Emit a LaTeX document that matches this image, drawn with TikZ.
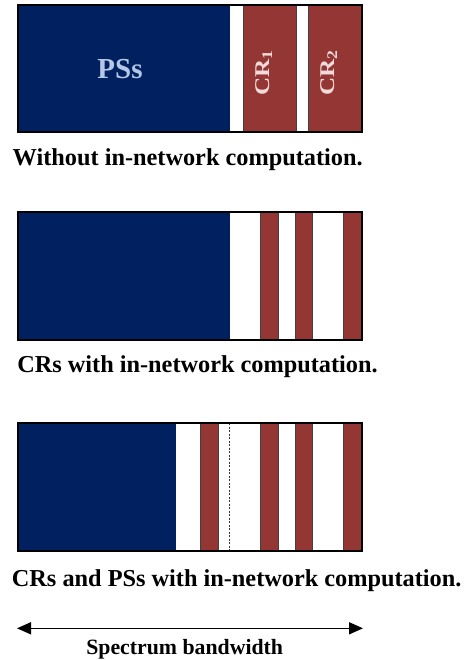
\documentclass[tikz,border=0pt]{standalone}
\usepackage{fontspec}
\usepackage{graphicx}
\setmainfont{Liberation Serif}
\usetikzlibrary{arrows.meta}
\definecolor{psblue}{HTML}{002060}
\definecolor{crred}{HTML}{943634}
\definecolor{pstext}{HTML}{B4C7E7}
\definecolor{crtext}{HTML}{F2DCDB}
\begin{document}
\begin{tikzpicture}[x=1pt,y=-1pt,
    ps/.style={fill=psblue},
    cr/.style={fill=crred,draw=black!75,line width=0.8pt},
    band/.style={draw=black,line width=2pt},
    caption/.style={font=\fontsize{24.3}{29}\selectfont\bfseries,anchor=base,inner sep=0pt},
    crlabel/.style={font=\fontsize{21}{25}\selectfont\bfseries,text=crtext,rotate=90,anchor=base,inner sep=0pt}]
    \useasboundingbox (0,0) rectangle (467,660);
    % without in-network computation
    \fill[ps] (18,5) rectangle (230,132);
    \draw[cr] (243,5) rectangle (296,132);
    \draw[cr] (308,5) rectangle (361,132);
    \draw[band] (18,5) rectangle (362,132);
    \node[font=\fontsize{29}{34}\selectfont\bfseries,text=pstext,anchor=base,inner sep=0pt] (ps) at (120,78.3) {PSs};
    \node[crlabel] (cr1) at (269,73) {\scalebox{1.2}[1]{CR\textsubscript{1}}};
    \node[crlabel] (cr2) at (334,73) {\scalebox{1.2}[1]{CR\textsubscript{2}}};
    \node[caption] (cap1) at (187.7,166) {Without in-network computation.};
    % CRs with in-network computation
    \fill[ps] (18,212) rectangle (230,340);
    \foreach \a/\b in {260/278,295/312,343/361}
        \draw[cr] (\a,212) rectangle (\b,340);
    \draw[band] (18,212) rectangle (362,340);
    \node[caption] (cap2) at (197.5,372.7) {CRs with in-network computation.};
    % CRs and PSs with in-network computation
    \fill[ps] (18,423) rectangle (176,551);
    \foreach \a/\b in {200/218,260/278,295/312,343/361}
        \draw[cr] (\a,423) rectangle (\b,551);
    \draw[black!80,line width=0.7pt,dash pattern=on 2pt off 1.5pt] (229.5,423) -- (229.5,551);
    \draw[band] (18,423) rectangle (362,551);
    \node[caption] (cap3) at (236.7,586.7) {CRs and PSs with in-network computation.};
    % bandwidth
    \coordinate (bwl) at (17,628.3);
    \coordinate (bwr) at (363,628.3);
    \draw[line width=1.6pt,{Triangle[length=14pt,width=12pt]}-{Triangle[length=14pt,width=12pt]}] (bwl) -- (bwr);
    \node[font=\fontsize{21.8}{26}\selectfont\bfseries,anchor=base,inner sep=0pt] (bw) at (184.7,654) {Spectrum bandwidth};
\end{tikzpicture}
\end{document}
